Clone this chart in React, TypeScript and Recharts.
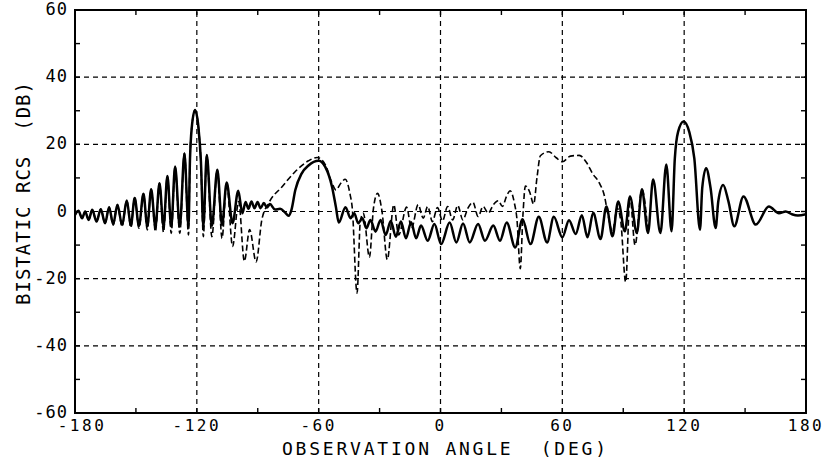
import React from 'react';
import { LineChart, Line, XAxis, YAxis, ReferenceLine, ReferenceArea } from 'recharts';

// Tick values
const X_TICKS = [-180, -150, -120, -90, -60, -30, 0, 30, 60, 90, 120, 150, 180];
const X_LABELED = [-180, -120, -60, 0, 60, 120, 180];
const Y_TICKS = [-60, -50, -40, -30, -20, -10, 0, 10, 20, 30, 40, 50, 60];
const Y_LABELED = [-60, -40, -20, 0, 20, 40, 60];
const X_GRID = [-120, -60, 0, 60, 120];
const Y_GRID = [-40, -20, 0, 20, 40];

// Solid curve: [observation angle (deg), bistatic RCS (dB)]
const SOLID_PTS: [number, number][] = [
  [-180, -1], [-178.3, 0.2], [-176.5, -2], [-175, 0], [-173.3, -2.5], [-171.5, 0.5], [-169.4, -3],
  [-167.3, 0.7], [-165.2, -3.5], [-163.2, 1.3], [-161.2, -3.8], [-159.1, 2.0], [-156.8, -4],
  [-154.5, 3.3], [-152.5, -4.2], [-150.6, 4.0], [-148.5, -4.3], [-146.3, 5.3], [-144.4, -4.4],
  [-142.5, 6.6], [-140.4, -4.5], [-138.4, 8.4], [-136.4, -4.5], [-134.5, 10.6], [-132.6, -4.5],
  [-130.7, 13.4], [-128.4, -4.5], [-126.1, 17.3], [-124.1, -4.5], [-123.4, 15], [-122.5, 25],
  [-120.9, 30.2], [-119.2, 25], [-118, 15], [-116.8, -4.5], [-115.1, 16.8], [-112.6, -4.3],
  [-109.9, 12.4], [-107.6, -4], [-105.3, 8.6], [-102.4, -3.5], [-99.6, 6.2], [-97.6, -0.5],
  [-96, 2.8], [-94.6, 0.8], [-93.1, 3], [-91.6, 1], [-90.1, 2.8], [-88.6, 1], [-87, 2.5],
  [-85.5, 1.2], [-84, 2.2], [-81.5, 0.6], [-79, 0.8], [-76.5, -0.3], [-74.8, -1.3], [-73.4, 0.5],
  [-71.5, 6.4], [-68.4, 11.3], [-65, 13.7], [-60, 15.1], [-56.7, 13.2], [-53.4, 7.3], [-51.5, 1.3],
  [-50.1, -3.3], [-46.8, 1.3], [-44.3, -2], [-42.5, -0.5], [-40.5, -3.5], [-38.5, -2], [-36.5, -5],
  [-34.5, -2.5], [-32, -6], [-29.5, -2.5], [-27, -7], [-24.5, -2.8], [-22, -7.5], [-19.5, -3],
  [-17, -8], [-14.5, -3.2], [-12, -8], [-9.6, -4.2], [-6.3, -8.7], [-3, -3.7], [0.3, -9.7],
  [4.5, -3.3], [7.8, -9.2], [11.1, -3.6], [14.4, -9.2], [18.5, -3.7], [21.9, -8.7], [26, -4.2],
  [29.3, -8.7], [32.6, -3.3], [36.8, -10.7], [40.4, -2.3], [44.3, -9.7], [48.4, -1.6], [52.5, -9.2],
  [55.8, -1.6], [60, -7.7], [63.3, -2.6], [66.6, -6.7], [69.6, -1.1], [72.4, -7.7], [75.2, -0.4],
  [78.8, -8.2], [81.7, 1.5], [84.7, -7.4], [87.5, 3], [90.8, -5.9], [93.3, 4.5], [96.7, -6.4],
  [99.2, 6.6], [102.2, -6.4], [104.7, 9.5], [108.3, -6.4], [111.2, 14], [113.8, -5.9], [115.4, 15.8],
  [117, 23.7], [119.7, 26.8], [122.5, 23.7], [125, 15.8], [127.8, -5.4], [128.9, 7], [130.8, 12.9],
  [133, 7], [135.5, -4.9], [136.8, 3], [139.2, 7.9], [141.8, 3], [144.7, -4.4], [149.2, 4.5],
  [155.3, -3.9], [161.7, 1.5], [166.7, -0.5], [170, 0], [173, -0.8], [176, -1.2], [180, -0.8],
];

// Dashed curve: [observation angle (deg), bistatic RCS (dB)]
const DASHED_PTS: [number, number][] = [
  [-180, -1], [-178.3, 0.2], [-176.5, -2], [-175, 0], [-173.3, -2.5], [-171.5, 0.5], [-169.4, -3],
  [-167.3, 0.7], [-165.2, -3.5], [-163.2, 1.3], [-161.2, -4], [-159.1, 2.0], [-156.8, -4.5],
  [-154.5, 3.3], [-152.5, -4.8], [-150.6, 4.0], [-148.5, -5], [-146.3, 5.3], [-144.4, -5.5],
  [-142.5, 6.6], [-140.4, -6], [-138.4, 8.4], [-136.4, -6.2], [-134.5, 10.6], [-132.6, -6.5],
  [-130.7, 13.4], [-128.4, -6.5], [-126.1, 17.3], [-124.1, -7], [-123.4, 15], [-122.5, 25],
  [-120.9, 30.2], [-119.2, 25], [-118, 15], [-116.8, -7.5], [-115.1, 16.8], [-112.6, -7.5],
  [-109.9, 12.4], [-107.6, -8], [-105.3, 8.6], [-102.4, -10.4], [-99.4, 3], [-96.6, -14.8],
  [-94, -5.4], [-90.8, -15], [-88, -2.5], [-84.6, 2.5], [-78, 7.4], [-71.5, 11.9], [-65, 15.1],
  [-60.8, 16.1], [-56.7, 13.9], [-53.4, 8.4], [-51.5, 6.4], [-49, 8.5], [-46.9, 9.6], [-44.5, 5],
  [-43.5, 1.3], [-41.1, -24.3], [-39.5, -3], [-38, -0.5], [-35, -13.6], [-33, 1], [-31, 5.4],
  [-28.8, 0], [-26.2, -14.3], [-23, 2], [-20.6, -7], [-16.7, 1.3], [-14.3, -5], [-11, 2],
  [-8.5, -2], [-6.3, 1.5], [-4, -3], [-1.5, 1.2], [1, -2.8], [3.5, 1.5], [6, -2.5], [8.5, 1.8],
  [11, -2.5], [13.5, 1], [16, 2.7], [18.5, -1.5], [21, 1.5], [23.5, -0.5], [26, 2], [28.5, 3.2],
  [30.5, 1.5], [32.5, 4.5], [34.3, 6.2], [36.4, 2.5], [37.6, -2], [39.3, -17], [40.6, -1],
  [41.8, 7.6], [43.8, 6], [45.9, 2.2], [47.5, 10], [49.2, 16.6], [53.4, 17.8], [57, 16], [60, 14.8],
  [64, 16.5], [68.3, 16.7], [72, 14.5], [74.9, 11.3], [78.2, 8.5], [80.7, 4.7], [82.5, -1],
  [84.7, -6], [87, 1], [88.8, -3], [91.2, -21], [93.3, 4.5], [95.8, -10], [99.2, 6.6], [102.2, -6.4],
];

const W = 840;
const H = 462;
const M = { top: 10, right: 34, bottom: 48, left: 74 };
const PLOT_W = W - 75 - M.right;
const PLOT_H = H - M.top - 49;
const FONT = '"DejaVu Sans Mono", "Liberation Mono", monospace';

const solidData = SOLID_PTS.map(([a, v]) => ({ a, v }));
const dashedData = DASHED_PTS.map(([a, v]) => ({ a, v }));

const XTick = (p: any) => {
  const { x, y, payload } = p;
  const v = payload.value;
  const dx = v === -180 ? 7 : 0;
  return (
    <g>
      <line x1={x} x2={x} y1={y} y2={y - 5} stroke="#000" strokeWidth={1.4} />
      <line x1={x} x2={x} y1={y - PLOT_H} y2={y - PLOT_H + 5} stroke="#000" strokeWidth={1.4} />
      {X_LABELED.includes(v) && (
        <text x={x + dx} y={y + 18} textAnchor="middle" fontFamily={FONT} fontSize={16} letterSpacing={2.5} fill="#000">
          {v}
        </text>
      )}
    </g>
  );
};

const YTick = (p: any) => {
  const { x, y, payload } = p;
  const v = payload.value;
  return (
    <g>
      <line x1={x} x2={x + 5} y1={y} y2={y} stroke="#000" strokeWidth={1.4} />
      <line x1={x + PLOT_W} x2={x + PLOT_W - 5} y1={y} y2={y} stroke="#000" strokeWidth={1.4} />
      {Y_LABELED.includes(v) && (
        <text x={x - 7} y={y + 5} textAnchor="end" fontFamily={FONT} fontSize={17} letterSpacing={1} fill="#000">
          {v}
        </text>
      )}
    </g>
  );
};

export default function App() {
  return (
    <div style={{ position: 'absolute', left: 0, top: 0, width: W, height: H, background: '#fff' }}>
      <LineChart width={W} height={H} margin={M}>
        <XAxis
          xAxisId={0}
          dataKey="a"
          type="number"
          domain={[-180, 180]}
          allowDataOverflow
          ticks={X_TICKS}
          interval={0}
          height={1}
          tickSize={0}
          tickMargin={0}
          tickLine={false}
          axisLine={false}
          tick={<XTick />}
        />
        <YAxis
          yAxisId={0}
          type="number"
          domain={[-60, 60]}
          allowDataOverflow
          ticks={Y_TICKS}
          interval={0}
          width={1}
          tickSize={0}
          tickMargin={0}
          tickLine={false}
          axisLine={false}
          tick={<YTick />}
        />
        {X_GRID.map((g) => (
          <ReferenceLine key={'x' + g} x={g} stroke="#000" strokeWidth={1.2} strokeDasharray="5 4" />
        ))}
        {Y_GRID.map((g) => (
          <ReferenceLine key={'y' + g} y={g} stroke="#000" strokeWidth={1.2} strokeDasharray="5 4" />
        ))}
        <ReferenceArea x1={-180} x2={180} y1={-60} y2={60} fill="none" fillOpacity={0} stroke="#000" strokeWidth={2} />
        <Line
          data={dashedData}
          dataKey="v"
          type="monotone"
          stroke="#000"
          strokeWidth={1.6}
          strokeDasharray="6 3"
          dot={false}
          activeDot={false}
          isAnimationActive={false}
        />
        <Line
          data={solidData}
          dataKey="v"
          type="monotone"
          stroke="#000"
          strokeWidth={2.5}
          dot={false}
          activeDot={false}
          isAnimationActive={false}
        />
      </LineChart>
      <svg width={W} height={H} style={{ position: 'absolute', left: 0, top: 0, pointerEvents: 'none' }}>
        <text
          x={444}
          y={455}
          textAnchor="middle"
          textLength={324}
          lengthAdjust="spacing"
          fontFamily={FONT}
          fontSize={18}
          fill="#000"
          style={{ whiteSpace: 'pre' }}
        >
          OBSERVATION ANGLE  (DEG)
        </text>
        <text
          transform="translate(30,193.5) rotate(-90)"
          x={0}
          y={0}
          textAnchor="middle"
          textLength={223}
          lengthAdjust="spacing"
          fontFamily={FONT}
          fontSize={19}
          fill="#000"
          style={{ whiteSpace: 'pre' }}
        >
          BISTATIC RCS  (DB)
        </text>
      </svg>
    </div>
  );
}
